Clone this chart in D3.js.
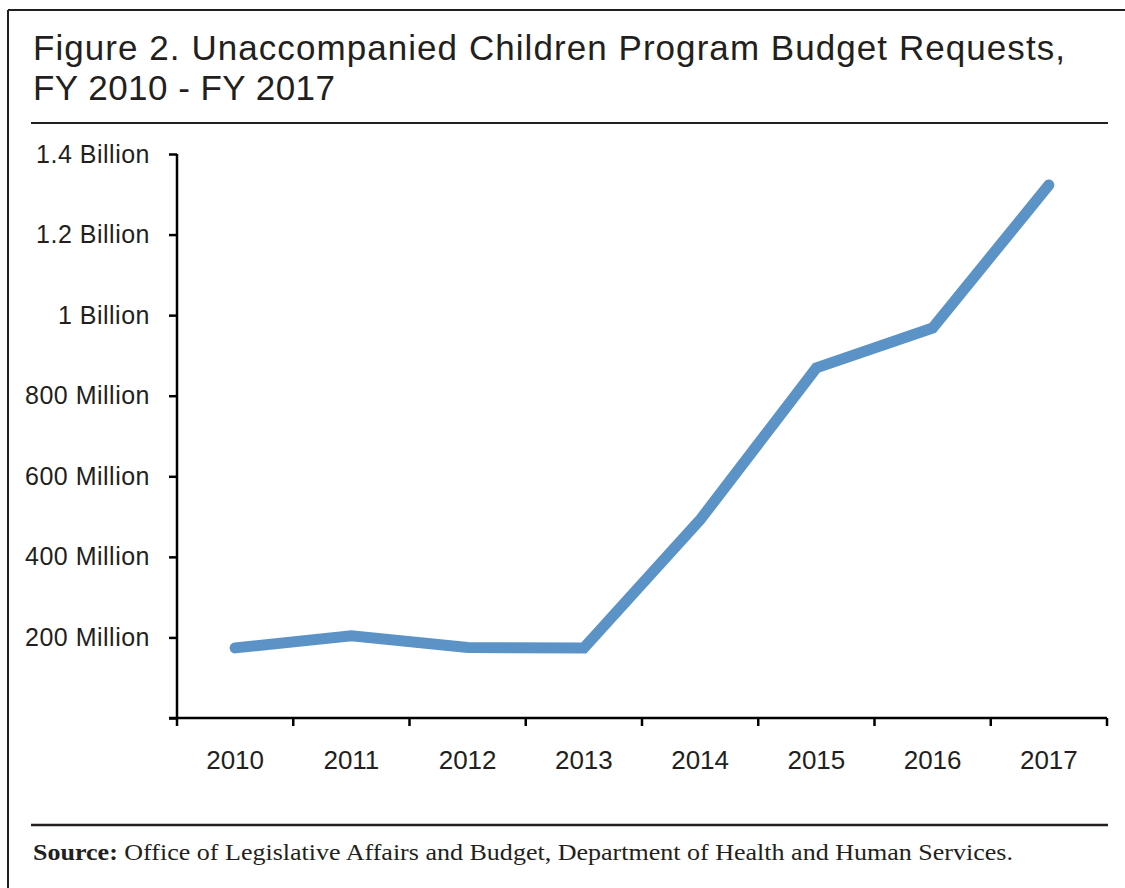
<!DOCTYPE html>
<html>
<head>
<meta charset="utf-8">
<script src="https://cdn.jsdelivr.net/npm/d3@7"></script>
<style>
body { margin: 0; background: #fff; }
text { fill: #231f20; }
</style>
</head>
<body>
<script>
var width = 1125, height = 888

// data (dollars)
var years = ["2010", "2011", "2012", "2013", "2014", "2015", "2016", "2017"]
var requests = [174e6, 204e6, 175e6, 174e6, 492e6, 869e6, 968e6, 1323e6]
var yTicks = [0, 200e6, 400e6, 600e6, 800e6, 1000e6, 1200e6, 1400e6]
var yTickLabels = ["", "200 Million", "400 Million", "600 Million", "800 Million", "1 Billion", "1.2 Billion", "1.4 Billion"]

var margin = {left: 177, right: 18, top: 154, bottom: 170}

var svg = d3.select("body")
.append("svg")
.attr("width", width)
.attr("height", height)

// outer frame (only top + left visible in the original)
svg.append("line")
	.attr("x1", 8).attr("y1", 10).attr("x2", width).attr("y2", 10)
	.attr("stroke", "#231f20").attr("stroke-width", 2)
svg.append("line")
	.attr("x1", 8).attr("y1", 10).attr("x2", 8).attr("y2", height)
	.attr("stroke", "#231f20").attr("stroke-width", 2)

var title = svg.append("text")
	.attr("x", 33)
	.attr("font-family", "'Liberation Sans', Arial, sans-serif")
	.attr("font-size", 35)
title.append("tspan").attr("x", 33).attr("y", 60)
	.attr("textLength", 1032).attr("lengthAdjust", "spacing")
	.text("Figure 2. Unaccompanied Children Program Budget Requests,")
title.append("tspan").attr("x", 33).attr("y", 100)
	.attr("textLength", 302).attr("lengthAdjust", "spacing")
	.text("FY 2010 - FY 2017")

svg.append("line")
	.attr("x1", 31).attr("y1", 123).attr("x2", 1108).attr("y2", 123)
	.attr("stroke", "#231f20").attr("stroke-width", 2)

//Scales
var xScale = d3.scaleBand()
.domain(years)
.range([margin.left, width - margin.right])

var yScale = d3.scaleLinear()
.domain([0, 1400e6])
.range([height - margin.bottom, margin.top])

//Y axis
var yAxis = svg.append("g")
.attr("transform", "translate(" + margin.left + ",0)")
.call(d3.axisLeft(yScale)
	.tickValues(yTicks)
	.tickSize(8)
	.tickPadding(19)
	.tickFormat(function(d, i) { return yTickLabels[i] }))

//X axis
var xAxis = svg.append("g")
.attr("transform", "translate(0," + (height - margin.bottom) + ")")
.call(d3.axisBottom(xScale).tickSize(0).tickPadding(33))

// band boundary ticks
xAxis.selectAll(".edge")
.data(d3.range(years.length + 1))
.enter()
.append("line")
.attr("class", "edge")
.attr("x1", function(i) { return margin.left + i * xScale.step() })
.attr("x2", function(i) { return margin.left + i * xScale.step() })
.attr("y1", 0)
.attr("y2", 8)
.attr("stroke", "#000")
.attr("stroke-width", 2.5)

svg.selectAll(".domain, .tick line")
.attr("stroke", "#000")
.attr("stroke-width", 2.5)

yAxis.selectAll("text")
.attr("font-family", "'Liberation Sans', Arial, sans-serif")
.attr("font-size", 25)
.attr("letter-spacing", 0.5)
.attr("fill", "#231f20")

xAxis.selectAll(".tick text")
.attr("font-family", "'Liberation Sans', Arial, sans-serif")
.attr("font-size", 26)
.attr("fill", "#231f20")

// replace default domain with straight lines (no outer tick hooks)
svg.selectAll(".domain").remove()
svg.append("line")
	.attr("x1", margin.left).attr("x2", margin.left)
	.attr("y1", margin.top).attr("y2", height - margin.bottom)
	.attr("stroke", "#000").attr("stroke-width", 2.5)
svg.append("line")
	.attr("x1", margin.left - 8).attr("x2", width - margin.right)
	.attr("y1", height - margin.bottom).attr("y2", height - margin.bottom)
	.attr("stroke", "#000").attr("stroke-width", 2.5)

//Line
var line = d3.line()
.x(function(d, i) { return xScale(years[i]) + xScale.bandwidth() / 2 })
.y(function(d) { return yScale(d) })

svg.append("path")
.datum(requests)
.attr("d", line)
.attr("fill", "none")
.attr("stroke", "#5b93c7")
.attr("stroke-width", 11)
.attr("stroke-linecap", "round")
.attr("stroke-linejoin", "miter")

//Source
svg.append("line")
	.attr("x1", 31).attr("y1", 825).attr("x2", 1108).attr("y2", 825)
	.attr("stroke", "#231f20").attr("stroke-width", 2.5)

var source = svg.append("text")
	.attr("x", 33)
	.attr("y", 860)
	.attr("font-family", "'Liberation Serif', 'DejaVu Serif', serif")
	.attr("font-size", 23)
	.attr("textLength", 980)
	.attr("lengthAdjust", "spacingAndGlyphs")
source.append("tspan").attr("font-weight", "bold").text("Source:")
source.append("tspan").text(" Office of Legislative Affairs and Budget, Department of Health and Human Services.")
</script>
</body>
</html>
